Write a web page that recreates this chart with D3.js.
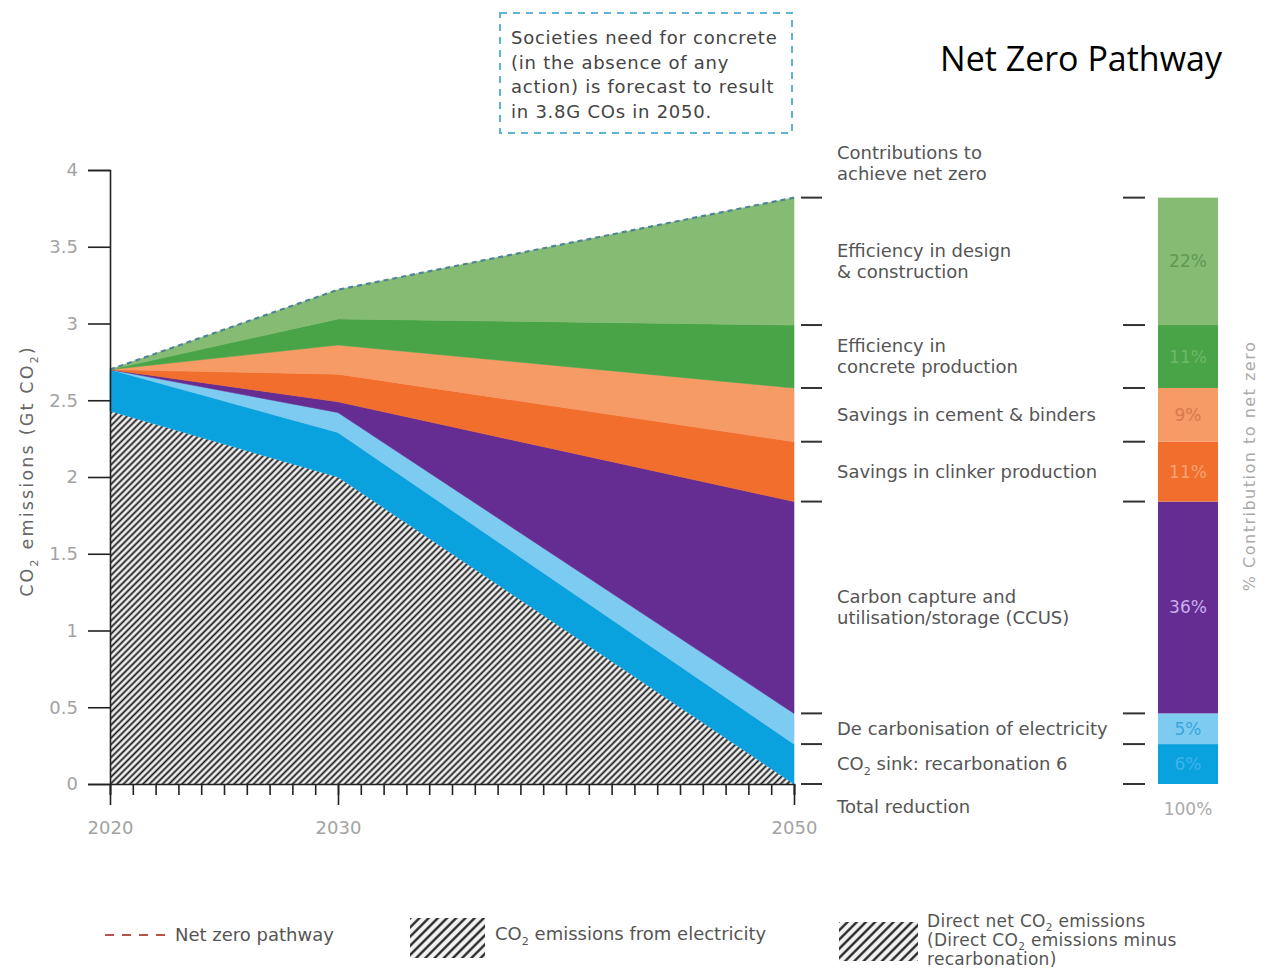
<!DOCTYPE html>
<html>
<head>
<meta charset="utf-8">
<script src="https://cdn.jsdelivr.net/npm/d3@7"></script>
<style>
  body { margin: 0; background: #fff; }
  text { font-family: "DejaVu Sans", sans-serif; }
</style>
</head>
<body>
<script>

// years on the x axis
var years = [2020, 2030, 2050]

// layer thickness for each year (Gt CO2), bottom to top
var direct      = [2.43, 2.00, 0.00]
var sink        = [0.27, 0.29, 0.26]
var electricity = [0.00, 0.13, 0.20]
var ccus        = [0.00, 0.07, 1.38]
var clinker     = [0.00, 0.18, 0.39]
var cement      = [0.00, 0.19, 0.35]
var concreteProd = [0.00, 0.17, 0.41]
var design      = [0.00, 0.19, 0.83]

// share of the 2050 reduction, same order (without direct)
var shares = ["6%", "5%", "36%", "11%", "9%", "11%", "22%"]

var keys = ["direct", "sink", "electricity", "ccus", "clinker", "cement", "concreteProd", "design"]
var series = [direct, sink, electricity, ccus, clinker, cement, concreteProd, design]

var colors = {
  sink: "#0aa1df",
  electricity: "#7dcbf0",
  ccus: "#652d91",
  clinker: "#f26e2c",
  cement: "#f69a66",
  concreteProd: "#48a447",
  design: "#86bb74"
}

// label colours for the % numbers in the bar (low contrast, like the original)
var shareColors = ["#3fb3ea", "#3aa6dc", "#c9aef0", "#f7a273", "#d9784c", "#6fb86a", "#5e9a54"]

var labels = [
  ["CO₂ sink: recarbonation 6"],
  ["De carbonisation of electricity"],
  ["Carbon capture and", "utilisation/storage (CCUS)"],
  ["Savings in clinker production"],
  ["Savings in cement & binders"],
  ["Efficiency in", "concrete production"],
  ["Efficiency in design", "& construction"]
]

var yTicks = [0, 0.5, 1, 1.5, 2, 2.5, 3, 3.5, 4]
var xLabels = [2020, 2030, 2050]

// rows for d3.stack
var rows = years.map(function (yr, i) {
  var r = { year: yr }
  keys.forEach(function (k, j) { r[k] = series[j][i] })
  return r
})

var stack = d3.stack().keys(keys)(rows)

var svg = d3.select("body")
  .append("svg")
  .attr("width", 1268)
  .attr("height", 972)

var x = d3.scaleLinear().domain([2020, 2050]).range([110, 794])
var y = d3.scaleLinear().domain([0, 4]).range([784, 170])

var FS = 18

// hatch patterns
var defs = svg.append("defs")
function hatch(id, w, sw) {
  var p = defs.append("pattern")
    .attr("id", id)
    .attr("patternUnits", "userSpaceOnUse")
    .attr("width", w).attr("height", w)
    .attr("patternTransform", "rotate(45)")
  p.append("rect").attr("width", w).attr("height", w).attr("fill", "#f2f2f2")
  p.append("line")
    .attr("x1", w / 2).attr("x2", w / 2)
    .attr("y1", 0).attr("y2", w)
    .attr("stroke", "#1a1a1a")
    .attr("stroke-width", sw)
}
hatch("hatch", 4.6, 1.8)
hatch("hatchBig", 6.5, 2.2)

// text with a subscript 2
function addText(sel, str, size, shift) {
  var s = shift || 5
  var parts = str.split("₂")
  parts.forEach(function (p, i) {
    if (i > 0) {
      sel.append("tspan").attr("dy", s).attr("font-size", size * 0.62).text("2")
      sel.append("tspan").attr("dy", -s).text(p)
    } else {
      sel.append("tspan").text(p)
    }
  })
}

// areas
var area = d3.area()
  .x(function (d) { return x(d.data.year) })
  .y0(function (d) { return y(d[0]) })
  .y1(function (d) { return y(d[1]) })

svg.selectAll(".layer")
  .data(stack)
  .enter()
  .append("path")
  .attr("class", "layer")
  .attr("d", area)
  .attr("fill", function (d) { return d.key == "direct" ? "url(#hatch)" : colors[d.key] })
  .attr("stroke", function (d) { return d.key == "direct" ? "none" : colors[d.key] })
  .attr("stroke-width", 0.6)

// dashed top line (no action pathway)
var topLayer = stack[stack.length - 1]
svg.append("path")
  .datum(topLayer)
  .attr("d", d3.line()
    .x(function (d) { return x(d.data.year) })
    .y(function (d) { return y(d[1]) }))
  .attr("fill", "none")
  .attr("stroke", "#4f8596")
  .attr("stroke-width", 2.2)
  .attr("stroke-dasharray", "5,4")

// y axis
var yAxis = svg.append("g")
  .attr("transform", "translate(110,0)")
  .call(d3.axisLeft(y).tickValues(yTicks).tickSize(22).tickPadding(10)
    .tickFormat(function (d) { return d }))
yAxis.select(".domain").attr("stroke", "#222").attr("stroke-width", 1.6)
yAxis.selectAll(".tick line").attr("stroke", "#222").attr("stroke-width", 1.6)
yAxis.selectAll(".tick text").attr("fill", "#a3a3a3").attr("font-size", FS)
  .attr("font-family", "DejaVu Sans")

// x axis: yearly minor ticks, long ticks at labelled years
var xAxisMinor = svg.append("g")
  .attr("transform", "translate(0,784)")
  .call(d3.axisBottom(x).ticks(30).tickSize(11).tickFormat(""))
xAxisMinor.select(".domain").attr("stroke", "#222").attr("stroke-width", 1.6)
xAxisMinor.selectAll(".tick line").attr("stroke", "#222").attr("stroke-width", 1.6)

var xAxis = svg.append("g")
  .attr("transform", "translate(0,784)")
  .call(d3.axisBottom(x).tickValues(xLabels).tickSize(21).tickPadding(16)
    .tickFormat(function (d) { return d }))
xAxis.select(".domain").remove()
xAxis.selectAll(".tick line").attr("stroke", "#222").attr("stroke-width", 1.6)
xAxis.selectAll(".tick text").attr("fill", "#a3a3a3").attr("font-size", FS)
  .attr("font-family", "DejaVu Sans")

// y axis title
var yt = svg.append("text")
  .attr("transform", "translate(33,471) rotate(-90)")
  .attr("text-anchor", "middle")
  .attr("font-size", 17.5)
  .attr("letter-spacing", 2.2)
  .attr("fill", "#666")
addText(yt, "CO₂ emissions (Gt CO₂)", 17.5)

// contributions in 2050: boundaries and labels
var layers2050 = stack.slice(1).map(function (s) { return s[s.length - 1] })
var bounds = layers2050.map(function (d) { return d[0] })
bounds.push(layers2050[layers2050.length - 1][1])

svg.selectAll(".tickL")
  .data(bounds)
  .enter()
  .append("line")
  .attr("x1", 801).attr("x2", 822)
  .attr("y1", function (d) { return y(d) })
  .attr("y2", function (d) { return y(d) })
  .attr("stroke", "#333").attr("stroke-width", 2)

svg.selectAll(".tickR")
  .data(bounds)
  .enter()
  .append("line")
  .attr("x1", 1123).attr("x2", 1145)
  .attr("y1", function (d) { return y(d) })
  .attr("y2", function (d) { return y(d) })
  .attr("stroke", "#333").attr("stroke-width", 2)

// bar of contributions
svg.selectAll(".bar")
  .data(layers2050)
  .enter()
  .append("rect")
  .attr("x", 1158)
  .attr("width", 60)
  .attr("y", function (d) { return y(d[1]) })
  .attr("height", function (d) { return y(d[0]) - y(d[1]) })
  .attr("fill", function (d, i) { return colors[keys[i + 1]] })

svg.selectAll(".share")
  .data(layers2050)
  .enter()
  .append("text")
  .attr("x", 1188)
  .attr("y", function (d) { return y((d[0] + d[1]) / 2) + 6 })
  .attr("text-anchor", "middle")
  .attr("font-size", 17)
  .attr("fill", function (d, i) { return shareColors[i] })
  .text(function (d, i) { return shares[i] })

svg.append("text")
  .attr("x", 1188).attr("y", 815)
  .attr("text-anchor", "middle")
  .attr("font-size", 17)
  .attr("fill", "#aaa")
  .text("100%")

// category labels
layers2050.forEach(function (d, i) {
  var lines = labels[i]
  var cy = y((d[0] + d[1]) / 2)
  lines.forEach(function (ln, j) {
    var t = svg.append("text")
      .attr("x", 837)
      .attr("y", cy + 6 + (j - (lines.length - 1) / 2) * 21)
      .attr("font-size", FS)
      .attr("fill", "#555")
    addText(t, ln, FS)
  })
})

svg.append("text").attr("x", 837).attr("y", 159).attr("font-size", FS).attr("fill", "#555")
  .text("Contributions to")
svg.append("text").attr("x", 837).attr("y", 180).attr("font-size", FS).attr("fill", "#555")
  .text("achieve net zero")
svg.append("text").attr("x", 837).attr("y", 813).attr("font-size", FS).attr("fill", "#555")
  .text("Total reduction")

svg.append("text")
  .attr("transform", "translate(1255,466) rotate(-90)")
  .attr("text-anchor", "middle")
  .attr("font-size", 16)
  .attr("letter-spacing", 1.5)
  .attr("fill", "#aaa")
  .text("% Contribution to net zero")

// callout box
svg.append("rect")
  .attr("x", 500).attr("y", 13)
  .attr("width", 292).attr("height", 120)
  .attr("fill", "none")
  .attr("stroke", "#5fb3d3")
  .attr("stroke-width", 2)
  .attr("stroke-dasharray", "7,6")

var note = ["Societies need for concrete", "(in the absence of any", "action) is forecast to result", "in 3.8G COs in 2050."]
svg.selectAll(".note")
  .data(note)
  .enter()
  .append("text")
  .attr("x", 511)
  .attr("y", function (d, i) { return 44 + i * 24.5 })
  .attr("font-size", FS)
  .attr("letter-spacing", 0.75)
  .attr("fill", "#444")
  .text(function (d) { return d })

// title
svg.append("text")
  .attr("x", 1222).attr("y", 71)
  .attr("text-anchor", "end")
  .style("font-family", "'Open Sans', sans-serif")
  .attr("font-size", 34)
  .attr("fill", "#000")
  .text("Net Zero Pathway")

// legend
svg.append("line")
  .attr("x1", 105).attr("x2", 165)
  .attr("y1", 935).attr("y2", 935)
  .attr("stroke", "#b8524c")
  .attr("stroke-width", 1.8)
  .attr("stroke-dasharray", "9,8")
svg.append("text").attr("x", 175).attr("y", 941).attr("font-size", FS).attr("fill", "#555")
  .text("Net zero pathway")

svg.append("rect").attr("x", 410).attr("y", 918).attr("width", 75).attr("height", 40)
  .attr("fill", "url(#hatchBig)")
var l2 = svg.append("text").attr("x", 495).attr("y", 940).attr("font-size", FS).attr("fill", "#555")
addText(l2, "CO₂ emissions from electricity", FS)

svg.append("rect").attr("x", 839).attr("y", 922).attr("width", 79).attr("height", 39)
  .attr("fill", "url(#hatchBig)")
var leg3 = ["Direct net CO₂ emissions", "(Direct CO₂ emissions minus", "recarbonation)"]
leg3.forEach(function (ln, i) {
  var t = svg.append("text").attr("x", 927).attr("y", 927 + i * 19)
    .attr("font-size", 17).attr("letter-spacing", 0.3).attr("fill", "#555")
  addText(t, ln, 17, 3.5)
})

</script>
</body>
</html>
